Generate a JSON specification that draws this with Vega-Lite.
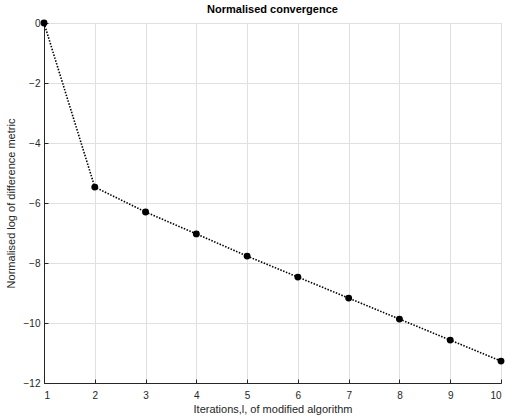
{
  "$schema": "https://vega.github.io/schema/vega-lite/v6.json",
  "autosize": "none",
  "width": 457,
  "height": 360,
  "padding": {"left": 44, "top": 23, "right": 5, "bottom": 34},
  "background": "white",
  "title": {"text": "Normalised convergence", "font": "Liberation Sans", "fontSize": 11, "fontWeight": "bold", "color": "#000", "offset": 3},
  "config": {
    "view": {"stroke": "#d9d9d9", "strokeWidth": 1},
    "axis": {"labelFont": "Liberation Sans", "titleFont": "Liberation Sans", "labelFontSize": 10, "titleFontSize": 11, "titleFontWeight": "normal", "labelColor": "#262626", "titleColor": "#262626", "domainColor": "#262626", "tickColor": "#262626", "gridColor": "#e0e0e0", "gridWidth": 1}
  },
  "data": {"values": [
    {"x": 1, "y": 0},
    {"x": 2, "y": -5.47},
    {"x": 3, "y": -6.3},
    {"x": 4, "y": -7.03},
    {"x": 5, "y": -7.77},
    {"x": 6, "y": -8.47},
    {"x": 7, "y": -9.17},
    {"x": 8, "y": -9.87},
    {"x": 9, "y": -10.57},
    {"x": 10, "y": -11.27}
  ]},
  "encoding": {
    "x": {"field": "x", "type": "quantitative", "scale": {"domain": [1, 10], "nice": false}, "axis": {"values": [1,2,3,4,5,6,7,8,9,10], "title": "Iterations,l, of modified algorithm", "tickSize": -4, "labelPadding": 11, "titlePadding": 3}},
    "y": {"field": "y", "type": "quantitative", "scale": {"domain": [-12, 0], "nice": false}, "axis": {"values": [-12,-10,-8,-6,-4,-2,0], "title": "Normalised log of difference metric", "tickSize": -4, "labelPadding": 8, "titlePadding": 7}}
  },
  "layer": [
    {"mark": {"type": "line", "color": "#000", "strokeWidth": 1.6, "strokeDash": [1.5, 1.5]}},
    {"mark": {"type": "point", "filled": true, "color": "#000", "size": 48, "opacity": 1}}
  ]
}
